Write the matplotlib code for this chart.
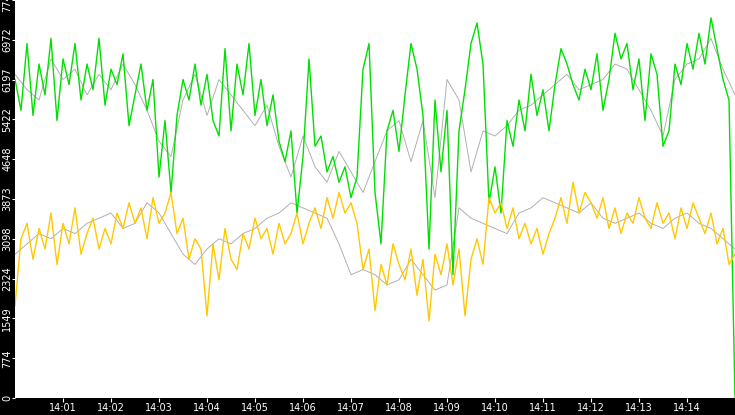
import matplotlib
matplotlib.use("Agg")
import matplotlib.pyplot as plt
import numpy as np

# seconds after 14:00:00, one sample every 7.5 s
t_sec = np.arange(121) * 7.5

green = [6200, 5600, 6900, 5500, 6500, 5900, 7000, 5400, 6600, 6100,
         6900, 5800, 6500, 6000, 7000, 5700, 6400, 6100, 6700, 5300,
         5900, 6500, 5600, 6200, 4300, 5400, 4000, 5500, 6200, 5800,
         6500, 5700, 6300, 5400, 5100, 6800, 5200, 6500, 5900, 6900,
         5500, 6200, 5300, 5900, 5000, 4600, 5200, 3600, 4700, 6600,
         4900, 5100, 4400, 4700, 4200, 4500, 3900, 4300, 6400, 6900,
         4000, 3000, 5200, 5600, 4800, 5900, 6900, 6400, 5500, 2900,
         5800, 4400, 5600, 2400, 5200, 6000, 6900, 7300, 6500, 3800,
         4500, 3600, 5400, 4900, 5800, 5200, 6300, 5500, 6000, 5200,
         6100, 6800, 6500, 6100, 5800, 6400, 6000, 6700, 5600, 6200,
         7100, 6600, 6900, 6000, 6600, 5400, 6700, 6300, 4900, 5200,
         6500, 6100, 6900, 6400, 7100, 6500, 7400, 6800, 6200, 5800,
         0]

yellow = [1800, 3100, 3400, 2700, 3300, 2900, 3600, 2600, 3400, 3000,
          3700, 2800, 3200, 3500, 2900, 3300, 3000, 3600, 3300, 3800,
          3400, 3700, 3100, 3900, 3400, 3600, 4000, 3200, 3500, 2700,
          3100, 2900, 1600, 3000, 2300, 3300, 2700, 2500, 3200, 2900,
          3500, 3100, 3300, 2800, 3400, 3000, 3200, 3600, 3000, 3400,
          3700, 3300, 3900, 3500, 4000, 3600, 3800, 3400, 2500, 2900,
          1700, 2600, 2200, 3000, 2600, 2300, 2900, 2000, 2700, 1500,
          2800, 2400, 3000, 2200, 2900, 1600, 2700, 3100, 2600, 3900,
          3600, 3800, 3300, 3700, 3100, 3400, 3000, 3300, 2800, 3200,
          3500, 3900, 3400, 4200, 3600, 4000, 3800, 3500, 3900, 3300,
          3700, 3200, 3600, 3400, 3900, 3500, 3300, 3800, 3400, 3600,
          3100, 3700, 3300, 3800, 3500, 3200, 3600, 3000, 3300, 2600,
          2800]

# secondary (grey) traces, one sample every 15 s
t_grey = np.arange(61) * 15
green_grey = [6300, 6000, 5800, 6600, 6200, 6400, 5900, 6300, 6000, 6500,
              6100, 5600, 5000, 4700, 5800, 6300, 5500, 6200, 5900, 5600,
              5300, 5700, 4900, 4300, 5100, 4500, 4200, 4800, 4400, 4000,
              4600, 5200, 5400, 4600, 5400, 3900, 6200, 5800, 4400, 5200,
              5100, 5300, 5600, 5700, 5900, 6100, 6300, 6000, 6100, 6200,
              6500, 6400, 6000, 5600, 5100, 6200, 6500, 6600, 7000, 6400,
              5900]
yellow_grey = [2800, 3000, 3200, 3100, 3300, 3200, 3400, 3500, 3600, 3300,
               3400, 3800, 3600, 3200, 2800, 2600, 2900, 3100, 3000, 3200,
               3300, 3500, 3600, 3800, 3700, 3600, 3500, 3000, 2400, 2500,
               2400, 2200, 2300, 2700, 2400, 2100, 2200, 3700, 3500, 3400,
               3300, 3200, 3600, 3700, 3900, 3800, 3700, 3600, 3800, 3500,
               3400, 3500, 3600, 3400, 3300, 3500, 3600, 3400, 3300, 3100,
               2900]

tick_sec = np.arange(1, 15) * 60
tick_labels = [f"14:{m:02d}" for m in range(1, 15)]
y_ticks = [0, 774, 1549, 2324, 3098, 3873, 4648, 5422, 6197, 6972, 7747]

fig = plt.figure(figsize=(7.35, 4.15), dpi=100, facecolor="black")
ax = fig.add_axes([15 / 735, 17 / 415, 720 / 735, 398 / 415])
ax.set_facecolor("white")

ax.plot(t_grey, green_grey, color="#b0b0b0", lw=0.7)
ax.plot(t_grey, yellow_grey, color="#b0b0b0", lw=0.7)
ax.plot(t_sec, green, color="#00e000", lw=1)
ax.plot(t_sec, yellow, color="#ffc800", lw=1)

ax.set_xlim(0, 900)
ax.set_ylim(0, 7747)
ax.set_xticks(tick_sec)
ax.set_xticklabels(tick_labels)
ax.set_yticks(y_ticks)
ax.set_yticklabels([str(v) for v in y_ticks], rotation=90, va="center")
ax.tick_params(colors="white", labelsize=7, length=3, pad=0.5)
ax.tick_params(axis="y", length=2, pad=0)
for s in ax.spines.values():
    s.set_visible(False)

fig.savefig("out.png", facecolor="black")
